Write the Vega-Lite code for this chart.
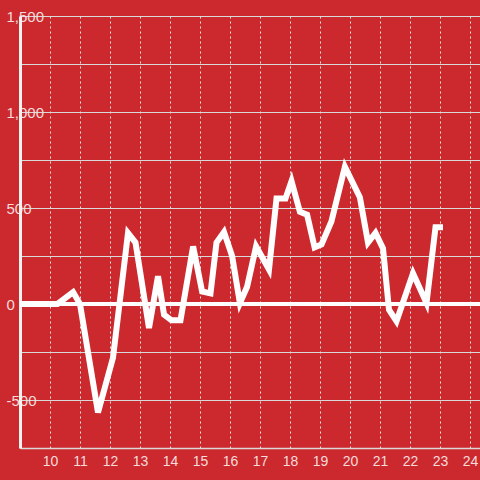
{
  "$schema": "https://vega.github.io/schema/vega-lite/v6.json",
  "width": 460,
  "height": 432,
  "autosize": {"type": "none"},
  "padding": {"left": 20, "top": 16, "right": 0, "bottom": 32},
  "background": "#cc292e",
  "config": {
    "view": {"stroke": null},
    "font": "Liberation Sans",
    "axisX": {"labelOverlap": false, "labelFlush": false}
  },
  "data": {
    "values": [
      {"hour": 9.0, "value": 0},
      {"hour": 10.25, "value": 0},
      {"hour": 10.77, "value": 62},
      {"hour": 11.0, "value": 0},
      {"hour": 11.6, "value": -565},
      {"hour": 12.1, "value": -280},
      {"hour": 12.6, "value": 370},
      {"hour": 12.85, "value": 320},
      {"hour": 13.3, "value": -125},
      {"hour": 13.6, "value": 145},
      {"hour": 13.8, "value": -55},
      {"hour": 14.05, "value": -85},
      {"hour": 14.35, "value": -85},
      {"hour": 14.77, "value": 300},
      {"hour": 15.07, "value": 65},
      {"hour": 15.35, "value": 55},
      {"hour": 15.55, "value": 320},
      {"hour": 15.8, "value": 375},
      {"hour": 16.07, "value": 250},
      {"hour": 16.33, "value": 5},
      {"hour": 16.57, "value": 90},
      {"hour": 16.87, "value": 300},
      {"hour": 17.3, "value": 180},
      {"hour": 17.55, "value": 550},
      {"hour": 17.85, "value": 550},
      {"hour": 18.05, "value": 640},
      {"hour": 18.33, "value": 480},
      {"hour": 18.57, "value": 465},
      {"hour": 18.82, "value": 295},
      {"hour": 19.05, "value": 310},
      {"hour": 19.38, "value": 430},
      {"hour": 19.83, "value": 715},
      {"hour": 20.33, "value": 555},
      {"hour": 20.6, "value": 320},
      {"hour": 20.85, "value": 370},
      {"hour": 21.1, "value": 290},
      {"hour": 21.3, "value": -30},
      {"hour": 21.55, "value": -90},
      {"hour": 22.1, "value": 160},
      {"hour": 22.55, "value": 5},
      {"hour": 22.85, "value": 400},
      {"hour": 23.1, "value": 400}
    ]
  },
  "layer": [
    {
      "mark": {"type": "rule", "color": "#ffffff", "strokeWidth": 3},
      "encoding": {
        "y": {"datum": 0, "type": "quantitative"}
      }
    },
    {
      "mark": {"type": "line", "color": "#ffffff", "strokeWidth": 6, "strokeJoin": "miter"},
      "encoding": {
        "x": {
          "field": "hour",
          "type": "quantitative",
          "scale": {"domain": [9, 24.333], "nice": false, "zero": false},
          "axis": {
            "title": null,
            "values": [10, 11, 12, 13, 14, 15, 16, 17, 18, 19, 20, 21, 22, 23, 24],
            "format": "d",
            "grid": true,
            "gridColor": "#e6e6e6",
            "gridDash": [2, 3],
            "gridWidth": 1,
            "ticks": false,
            "domainColor": "#d9d9d9",
            "domainWidth": 1.5,
            "labelColor": "#f5dcdc",
            "labelFontSize": 14,
            "labelPadding": 6,
            "labelOverlap": false,
            "labelFlush": false,
            "labelSeparation": 0,
            "labelFont": "Liberation Sans"
          }
        },
        "y": {
          "field": "value",
          "type": "quantitative",
          "scale": {"domain": [-750, 1500], "nice": false},
          "axis": {
            "title": null,
            "values": [-750, -500, -250, 0, 250, 500, 750, 1000, 1250, 1500],
            "labelExpr": "datum.value % 500 == 0 ? replace(format(datum.value, ','), '\u2212', '-') : ''",
            "grid": true,
            "gridColor": "#d9d9d9",
            "gridWidth": 1,
            "ticks": false,
            "domainColor": "#f2f2f2",
            "domainWidth": 3,
            "labelColor": "#f5dcdc",
            "labelFontSize": 15,
            "labelAlign": "left",
            "labelBaseline": "middle",
            "labelPadding": 14,
            "labelOverlap": false,
            "labelFlush": false,
            "labelFont": "Liberation Sans"
          }
        }
      }
    }
  ]
}
